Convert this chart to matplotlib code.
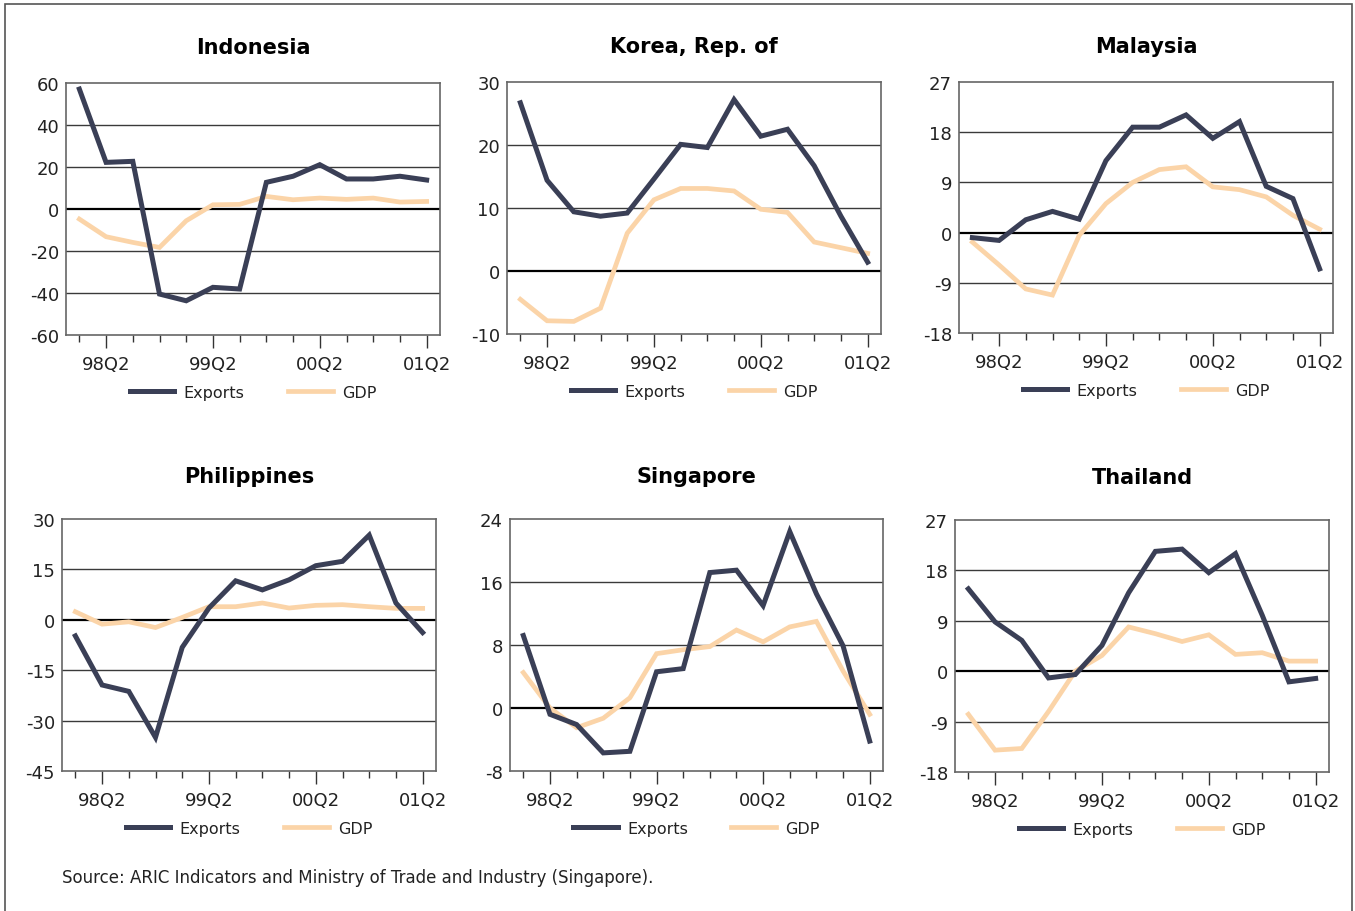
import numpy as np
import matplotlib
matplotlib.use("Agg")
import matplotlib.pyplot as plt
from matplotlib.patches import Rectangle

quarters = ["98Q1", "98Q2", "98Q3", "98Q4", "99Q1", "99Q2", "99Q3", "99Q4",
            "00Q1", "00Q2", "00Q3", "00Q4", "01Q1", "01Q2"]

countries = ["Indonesia", "Korea, Rep. of", "Malaysia",
             "Philippines", "Singapore", "Thailand"]

idn_exports = [57.1, 22.2, 22.7, -40.5, -43.7, -37.3, -38.1, 12.7, 15.6, 21.1, 14.3, 14.3, 15.6, 13.8]
idn_gdp = [-4.8, -13.2, -15.9, -18.3, -5.6, 2.0, 2.2, 6.0, 4.4, 5.2, 4.6, 5.2, 3.3, 3.6]

kor_exports = [26.7, 14.4, 9.4, 8.7, 9.2, 14.6, 20.1, 19.6, 27.2, 21.4, 22.5, 16.7, 8.7, 1.4]
kor_gdp = [-4.5, -7.9, -8.0, -5.9, 6.0, 11.3, 13.1, 13.1, 12.7, 9.8, 9.3, 4.6, 3.7, 2.8]

mys_exports = [-0.9, -1.4, 2.3, 3.8, 2.4, 12.9, 18.9, 18.9, 21.1, 16.9, 19.9, 8.3, 6.1, -6.5]
mys_gdp = [-1.7, -5.8, -10.1, -11.2, -0.5, 5.2, 9.0, 11.3, 11.8, 8.2, 7.7, 6.4, 3.1, 0.6]

phl_exports = [-4.8, -19.4, -21.3, -35.0, -8.2, 3.5, 11.6, 8.9, 11.9, 16.1, 17.4, 25.2, 5.0, -3.8]
phl_gdp = [2.4, -1.3, -0.6, -2.3, 0.7, 3.9, 3.9, 5.0, 3.5, 4.3, 4.5, 3.9, 3.4, 3.4]

sgp_exports = [9.2, -0.8, -2.1, -5.7, -5.5, 4.6, 5.0, 17.2, 17.5, 13.0, 22.4, 14.5, 7.9, -4.2]
sgp_gdp = [4.5, 0.0, -2.5, -1.3, 1.3, 6.9, 7.4, 7.8, 9.9, 8.4, 10.3, 11.0, 4.7, -0.8]

tha_exports = [14.7, 8.8, 5.5, -1.2, -0.6, 4.6, 14.0, 21.4, 21.8, 17.6, 21.0, 10.0, -1.9, -1.3]
tha_gdp = [-7.7, -14.1, -13.8, -7.2, 0.0, 2.8, 7.9, 6.7, 5.3, 6.5, 3.0, 3.3, 1.8, 1.8]

exports = [idn_exports, kor_exports, mys_exports, phl_exports, sgp_exports, tha_exports]
gdp = [idn_gdp, kor_gdp, mys_gdp, phl_gdp, sgp_gdp, tha_gdp]

y_ticks = [
    [-60, -40, -20, 0, 20, 40, 60],
    [-10, 0, 10, 20, 30],
    [-18, -9, 0, 9, 18, 27],
    [-45, -30, -15, 0, 15, 30],
    [-8, 0, 8, 16, 24],
    [-18, -9, 0, 9, 18, 27],
]

# axes boxes in pixels: left, top, right, bottom
boxes = [
    (66, 84, 440, 336),
    (507, 83, 881, 335),
    (959, 83, 1333, 334),
    (62, 520, 436, 772),
    (510, 520, 883, 772),
    (955, 521, 1329, 773),
]
title_pads = [21.5, 21.5, 21.5, 26.5, 26.5, 26.5]

W, H = 1355, 912
exp_color = "#3a3f56"
gdp_color = "#fbd4a8"
text_color = "#222222"

fig = plt.figure(figsize=(W / 100, H / 100), dpi=100)
fig.patch.set_facecolor("white")

fig.add_artist(Rectangle((5 / W, -0.01), (1352 - 5) / W, 1 - 5 / H + 0.01,
                         transform=fig.transFigure, fill=False,
                         edgecolor="#555555", linewidth=1.2))

x = np.arange(len(quarters))
major = [1, 5, 9, 13]

for i, name in enumerate(countries):
    l, t, r, b = boxes[i]
    ax = fig.add_axes([l / W, 1 - b / H, (r - l) / W, (b - t) / H])
    yt = y_ticks[i]
    for v in yt[1:-1]:
        ax.axhline(v, color="#000000" if v == 0 else "#3a3a3a",
                   lw=1.6 if v == 0 else 1.0, zorder=1)
    ax.plot(x, gdp[i], color=gdp_color, lw=3.4, label="GDP", zorder=3,
            solid_joinstyle="miter")
    ax.plot(x, exports[i], color=exp_color, lw=3.6, label="Exports", zorder=4,
            solid_joinstyle="miter")

    ax.set_xlim(-0.5, 13.5)
    ax.set_ylim(yt[0], yt[-1])
    ax.set_yticks(yt)
    ax.set_yticklabels([str(v) for v in yt])
    ax.tick_params(axis="y", length=0, pad=5, labelsize=13, labelcolor=text_color)

    ax.set_xticks(major)
    ax.set_xticklabels([quarters[k] for k in major])
    ax.set_xticks(x, minor=True)
    ax.tick_params(axis="x", which="major", length=9, width=1, color="#333333",
                   pad=5.5, labelsize=13, labelcolor=text_color)
    ax.tick_params(axis="x", which="minor", length=5, width=1, color="#333333")

    for s in ax.spines.values():
        s.set_color("#666666")
        s.set_linewidth(1.2)

    ax.set_title(name, fontsize=15, fontweight="bold", color="#000000",
                 pad=title_pads[i])

    handles, labels = ax.get_legend_handles_labels()
    ax.legend(handles[::-1], labels[::-1], loc="center", bbox_to_anchor=(0.5, -0.228),
              ncol=2, frameon=False, fontsize=11.5, handlelength=2.8,
              handletextpad=0.6, columnspacing=2.7, labelcolor=text_color)

fig.text(62 / W, 1 - 883 / H,
         "Source: ARIC Indicators and Ministry of Trade and Industry (Singapore).",
         fontsize=12, color=text_color, va="baseline")

plt.savefig("out.png", dpi=100)
